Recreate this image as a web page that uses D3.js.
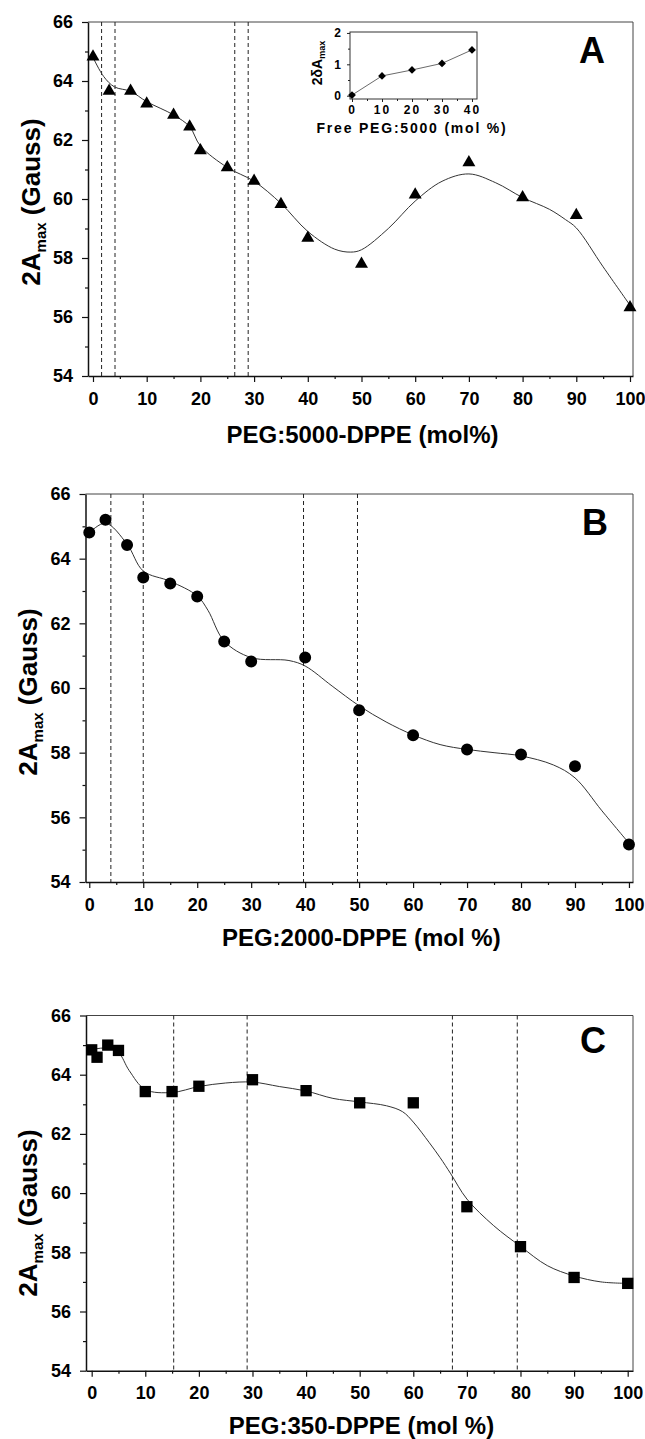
<!DOCTYPE html>
<html>
<head>
<meta charset="utf-8">
<script src="https://cdn.jsdelivr.net/npm/d3@7"></script>
<style>
  body { margin: 0; background: #fff; }
  svg { display: block; }
</style>
</head>
<body>
<svg id="chart"></svg>
<script>
// ---- data ----

// A: PEG:5000-DPPE
const molA = [0, 3, 7, 10, 15, 18, 20, 25, 30, 35, 40, 50, 60, 70, 80, 90, 100];
const ampA = [64.82, 63.66, 63.66, 63.23, 62.85, 62.45, 61.64, 61.07, 60.61, 59.82, 58.68, 57.8, 60.14, 61.24, 60.05, 59.45, 56.32];
const fitMolA = [0, 2, 4, 7, 10, 15, 18, 20, 25, 30, 35, 40, 45, 48, 50, 55, 60, 65, 70, 75, 80, 85, 88, 90, 95, 100];
const fitAmpA = [64.8, 64.15, 63.8, 63.65, 63.3, 62.85, 62.45, 61.8, 61.07, 60.6, 59.85, 58.9, 58.3, 58.2, 58.28, 59.0, 59.93, 60.6, 60.85, 60.55, 60.05, 59.65, 59.3, 59.02, 57.7, 56.4];
const dashA = [1.6, 4.1, 26.4, 28.9];

// A inset: free PEG:5000
const freeMol = [0, 10, 20, 30, 40];
const deltaAmp = [0.02, 0.63, 0.82, 1.03, 1.46];

// B: PEG:2000-DPPE
const molB = [0, 3, 7, 10, 15, 20, 25, 30, 40, 50, 60, 70, 80, 90, 100];
const ampB = [64.81, 65.2, 64.42, 63.42, 63.23, 62.83, 61.44, 60.82, 60.94, 59.31, 58.54, 58.1, 57.94, 57.58, 55.16];
const fitMolB = [0, 3, 7, 10, 15, 20, 22, 25, 30, 37, 40, 45, 50, 55, 60, 65, 70, 75, 80, 86, 90, 95, 100];
const fitAmpB = [64.8, 65.1, 64.45, 63.62, 63.3, 62.85, 62.4, 61.45, 60.94, 60.85, 60.68, 60.06, 59.45, 58.95, 58.55, 58.25, 58.1, 58.0, 57.9, 57.62, 57.22, 56.2, 55.2];
const dashB = [4, 10, 39.7, 49.7];

// C: PEG:350-DPPE
const molC = [0, 1, 3, 5, 10, 15, 20, 30, 40, 50, 60, 70, 80, 90, 100];
const ampC = [64.84, 64.59, 65.0, 64.82, 63.43, 63.43, 63.61, 63.83, 63.46, 63.05, 63.05, 59.54, 58.19, 57.15, 56.95];
const fitMolC = [0, 3, 5, 7, 10, 15, 20, 25, 30, 35, 40, 45, 50, 55, 58, 60, 63, 65, 67, 70, 75, 80, 85, 90, 95, 100];
const fitAmpC = [64.85, 64.9, 64.75, 64.14, 63.5, 63.4, 63.6, 63.72, 63.75, 63.6, 63.45, 63.2, 63.08, 62.95, 62.75, 62.4, 61.7, 61.2, 60.65, 59.8, 58.9, 58.2, 57.55, 57.2, 57.0, 56.95];
const dashC = [15.3, 29, 67.3, 79.4];

// ticks
const xTicks = [0, 10, 20, 30, 40, 50, 60, 70, 80, 90, 100];
const xMinor = [5, 15, 25, 35, 45, 55, 65, 75, 85, 95];
const yTicks = [54, 56, 58, 60, 62, 64, 66];
const yMinor = [55, 57, 59, 61, 63, 65];
const insetXTicks = [0, 10, 20, 30, 40];
const insetXMinor = [5, 15, 25, 35];
const insetYTicks = [0, 1, 2];
const insetYMinor = [0.5, 1.5];

// ---- drawing ----
const width = 645;
const height = 1439;
const font = "'Liberation Sans', Arial, Helvetica, sans-serif";

const svg = d3.select("#chart")
    .attr("width", width)
    .attr("height", height)
    .attr("viewBox", [0, 0, width, height]);

const panels = [
    {mol: molA, amp: ampA, fitMol: fitMolA, fitAmp: fitAmpA, dash: dashA, symbol: d3.symbolTriangle, size: 73,
     letter: "A", xLabel: "PEG:5000-DPPE (mol%)",
     left: 88, right: 633, top: 22, bottom: 376, xDomain: [-0.93, 100.56],
     letterX: 592, letterY: 63, titleX: 40, titleY: 202, xLabelY: 443},
    {mol: molB, amp: ampB, fitMol: fitMolB, fitAmp: fitAmpB, dash: dashB, symbol: d3.symbolCircle, size: 113,
     letter: "B", xLabel: "PEG:2000-DPPE (mol %)",
     left: 85.5, right: 633, top: 494, bottom: 882, xDomain: [-0.7, 100.75],
     letterX: 595, letterY: 535, titleX: 37, titleY: 692, xLabelY: 946},
    {mol: molC, amp: ampC, fitMol: fitMolC, fitAmp: fitAmpC, dash: dashC, symbol: d3.symbolSquare, size: 128,
     letter: "C", xLabel: "PEG:350-DPPE (mol %)",
     left: 86, right: 633, top: 1015.5, bottom: 1370.7, xDomain: [-1.06, 100.99],
     letterX: 593, letterY: 1053, titleX: 37, titleY: 1213, xLabelY: 1434}
];

function styleAxis(g, size) {
    g.attr("font-family", font)
        .attr("font-size", size)
        .attr("font-weight", "bold");
    g.selectAll(".tick line").attr("stroke", "#111").attr("stroke-width", 1.2);
    g.select(".domain").attr("stroke", "#111").attr("stroke-width", 1.5);
}

function drawPanel(p) {
    const x = d3.scaleLinear().domain(p.xDomain).range([p.left, p.right]);
    const y = d3.scaleLinear().domain([54, 66]).range([p.bottom, p.top]);
    const g = svg.append("g");

    // top / right frame
    g.append("path")
        .attr("d", `M${p.left},${p.top}H${p.right}V${p.bottom}`)
        .attr("fill", "none")
        .attr("stroke", "#444")
        .attr("stroke-width", 1);

    // dashed guides
    g.append("g")
        .selectAll("line")
        .data(p.dash)
        .join("line")
        .attr("x1", d => x(d))
        .attr("x2", d => x(d))
        .attr("y1", p.top)
        .attr("y2", p.bottom)
        .attr("stroke", "#222")
        .attr("stroke-width", 1)
        .attr("stroke-dasharray", "4,3");

    // axes
    g.append("g")
        .attr("transform", `translate(0,${p.bottom})`)
        .call(d3.axisBottom(x).tickValues(xMinor).tickSize(3).tickFormat(""))
        .call(g => g.select(".domain").remove())
        .call(g => styleAxis(g, 18));
    g.append("g")
        .attr("transform", `translate(0,${p.bottom})`)
        .call(d3.axisBottom(x).tickValues(xTicks).tickSize(6).tickPadding(10).tickSizeOuter(0))
        .call(g => styleAxis(g, 18));
    g.append("g")
        .attr("transform", `translate(${p.left},0)`)
        .call(d3.axisLeft(y).tickValues(yMinor).tickSize(3).tickFormat(""))
        .call(g => g.select(".domain").remove())
        .call(g => styleAxis(g, 18));
    g.append("g")
        .attr("transform", `translate(${p.left},0)`)
        .call(d3.axisLeft(y).tickValues(yTicks).tickSize(6).tickPadding(9).tickSizeOuter(0))
        .call(g => styleAxis(g, 18));

    // fitted curve
    const line = d3.line()
        .x((d, i) => x(p.fitMol[i]))
        .y(d => y(d))
        .curve(d3.curveCatmullRom.alpha(0.5));
    g.append("path")
        .attr("d", line(p.fitAmp))
        .attr("fill", "none")
        .attr("stroke", "#333")
        .attr("stroke-width", 1);

    // markers
    g.append("g")
        .selectAll("path")
        .data(p.amp)
        .join("path")
        .attr("transform", (d, i) => `translate(${x(p.mol[i])},${y(d)})`)
        .attr("d", d3.symbol().type(p.symbol).size(p.size)())
        .attr("fill", "#000");

    // panel letter
    g.append("text")
        .attr("x", p.letterX)
        .attr("y", p.letterY)
        .attr("text-anchor", "middle")
        .attr("font-family", font)
        .attr("font-size", 36)
        .attr("font-weight", "bold")
        .text(p.letter);

    // y title
    const t = g.append("text")
        .attr("transform", `translate(${p.titleX},${p.titleY}) rotate(-90)`)
        .attr("text-anchor", "middle")
        .attr("font-family", font)
        .attr("font-size", 26)
        .attr("font-weight", "bold");
    t.append("tspan").text("2A");
    t.append("tspan").attr("font-size", 15).attr("dy", 6).text("max");
    t.append("tspan").attr("dy", -6).text(" (Gauss)");

    // x title
    g.append("text")
        .attr("x", (p.left + p.right) / 2 + 2)
        .attr("y", p.xLabelY)
        .attr("text-anchor", "middle")
        .attr("font-family", font)
        .attr("font-size", 24)
        .attr("font-weight", "bold")
        .text(p.xLabel);
}

panels.forEach(drawPanel);

// ---- inset of panel A ----
const inset = {left: 350, right: 477, top: 32, bottom: 99};
const ix = d3.scaleLinear().domain([-0.67, 41.67]).range([inset.left, inset.right]);
const iy = d3.scaleLinear().domain([-0.105, 2.03]).range([inset.bottom, inset.top]);
const ig = svg.append("g");

ig.append("rect")
    .attr("x", inset.left)
    .attr("y", inset.top)
    .attr("width", inset.right - inset.left)
    .attr("height", inset.bottom - inset.top)
    .attr("fill", "#fff")
    .attr("stroke", "#333")
    .attr("stroke-width", 1);

function styleInset(g) {
    g.attr("font-family", font)
        .attr("font-size", 12)
        .attr("font-weight", "bold")
        .attr("letter-spacing", 2);
    g.select(".domain").remove();
    g.selectAll(".tick line").attr("stroke", "#222");
}

ig.append("g")
    .attr("transform", `translate(0,${inset.bottom})`)
    .call(d3.axisBottom(ix).tickValues(insetXMinor).tickSize(2).tickFormat(""))
    .call(styleInset);
ig.append("g")
    .attr("transform", `translate(0,${inset.bottom})`)
    .call(d3.axisBottom(ix).tickValues(insetXTicks).tickSize(3).tickPadding(3).tickFormat(d3.format("d")))
    .call(styleInset);
ig.append("g")
    .attr("transform", `translate(${inset.left},0)`)
    .call(d3.axisLeft(iy).tickValues(insetYMinor).tickSize(2).tickFormat(""))
    .call(styleInset);
ig.append("g")
    .attr("transform", `translate(${inset.left},0)`)
    .call(d3.axisLeft(iy).tickValues(insetYTicks).tickSize(3).tickPadding(4).tickFormat(d3.format("d")))
    .call(styleInset);

ig.append("path")
    .attr("d", d3.line().x((d, i) => ix(freeMol[i])).y(d => iy(d))(deltaAmp))
    .attr("fill", "none")
    .attr("stroke", "#444")
    .attr("stroke-width", 0.8);

ig.append("g")
    .selectAll("path")
    .data(deltaAmp)
    .join("path")
    .attr("transform", (d, i) => `translate(${ix(freeMol[i])},${iy(d)}) rotate(45)`)
    .attr("d", d3.symbol().type(d3.symbolSquare).size(30)())
    .attr("fill", "#000");

ig.append("text")
    .attr("x", 412)
    .attr("y", 133)
    .attr("text-anchor", "middle")
    .attr("font-family", font)
    .attr("font-size", 14)
    .attr("font-weight", "bold")
    .attr("letter-spacing", 1.8)
    .text("Free PEG:5000 (mol %)");

const it = ig.append("text")
    .attr("transform", "translate(322,63) rotate(-90)")
    .attr("text-anchor", "middle")
    .attr("font-family", font)
    .attr("font-size", 14)
    .attr("font-weight", "bold");
it.append("tspan").text("2δA");
it.append("tspan").attr("font-size", 9).attr("dy", 3).text("max");
</script>
</body>
</html>
